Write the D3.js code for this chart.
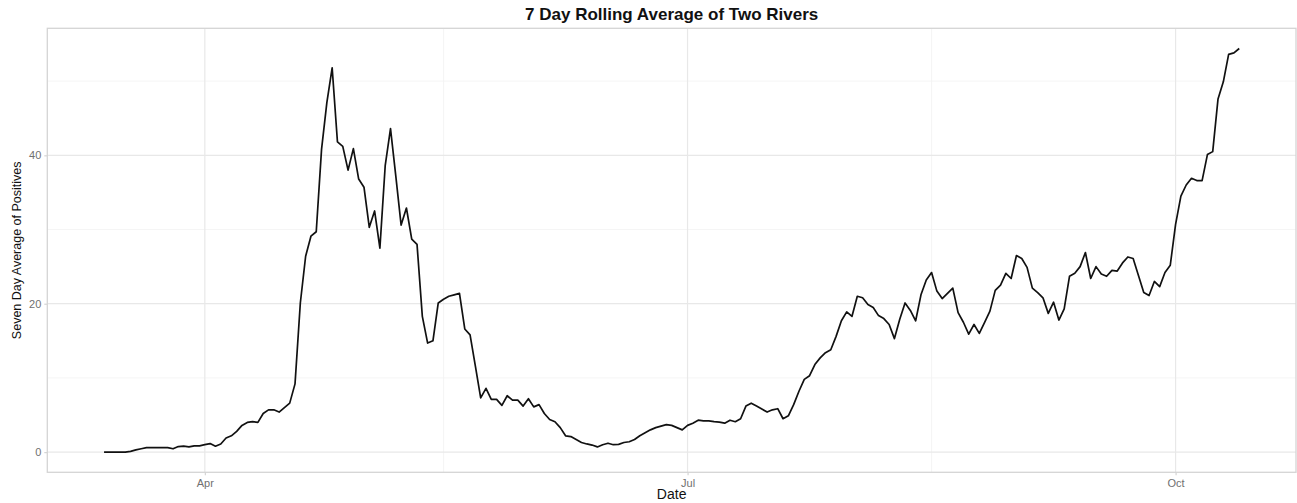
<!DOCTYPE html>
<html>
<head>
<meta charset="utf-8">
<script src="https://cdn.jsdelivr.net/npm/d3@7"></script>
<style>
  body { margin: 0; background: #fff; }
  text { font-family: "Liberation Sans", Arial, Helvetica, sans-serif; }
</style>
</head>
<body>
<div id="chart"></div>
<script>
// data: daily 7 day rolling average, starting 2020-03-13
const startDate = "2020-03-13";
const rollingAvg = [
  0, 0, 0, 0, 0, 0.1, 0.3, 0.45, 0.6, 0.6,
  0.6, 0.6, 0.6, 0.45, 0.75, 0.8, 0.7, 0.85, 0.85, 1.0,
  1.15, 0.8, 1.1, 1.9, 2.2, 2.8, 3.6, 4.0, 4.1, 4.0,
  5.2, 5.7, 5.7, 5.4, 6.0, 6.6, 9.2, 20.1, 26.4, 29.1,
  29.7, 40.8, 47.1, 51.8, 41.8, 41.2, 38.0, 40.9, 36.8, 35.7,
  30.3, 32.5, 27.5, 38.6, 43.6, 37.2, 30.6, 32.9, 28.7, 28.0,
  18.3, 14.7, 15.0, 20.1, 20.6, 21.0, 21.2, 21.4, 16.6, 15.8,
  11.6, 7.3, 8.6, 7.1, 7.1, 6.3, 7.6, 7.0, 7.0, 6.2,
  7.2, 6.1, 6.4, 5.2, 4.4, 4.1, 3.3, 2.2, 2.1, 1.7,
  1.3, 1.1, 0.95, 0.7, 1.0, 1.2, 1.0, 1.05, 1.3, 1.4,
  1.7, 2.2, 2.6, 3.0, 3.3, 3.5, 3.7, 3.6, 3.3, 3.0,
  3.6, 3.9, 4.3, 4.2, 4.2, 4.1, 4.05, 3.9, 4.3, 4.1,
  4.5, 6.2, 6.6, 6.2, 5.8, 5.4, 5.7, 5.85, 4.5, 4.9,
  6.4, 8.2, 9.8, 10.3, 11.8, 12.7, 13.4, 13.8, 15.6, 17.7,
  18.9, 18.3, 21.0, 20.8, 19.9, 19.5, 18.4, 18.0, 17.2, 15.3,
  17.9, 20.1, 19.1, 17.7, 21.2, 23.2, 24.2, 21.7, 20.7, 21.4,
  22.1, 18.8, 17.5, 15.9, 17.2, 16.0, 17.5, 19.0, 21.8, 22.5,
  24.1, 23.4, 26.5, 26.1, 24.9, 22.1, 21.5, 20.8, 18.7, 20.2,
  17.8, 19.3, 23.7, 24.1, 25.0, 26.9, 23.4, 25.0, 24.0, 23.7,
  24.5, 24.4, 25.5, 26.3, 26.1, 23.8, 21.5, 21.1, 23.0, 22.3,
  24.2, 25.2, 30.7, 34.5, 36.0, 36.9, 36.6, 36.6, 40.1, 40.5,
  47.6, 49.9, 53.6, 53.8, 54.4
];
const xTickDates = ["2020-04-01", "2020-07-01", "2020-10-01"];
const xTickLabels = ["Apr", "Jul", "Oct"];
const xMinorDates = ["2020-05-16", "2020-08-16"];
const yTicks = [0, 20, 40];
const yMinor = [10, 30, 50];

const W = 1297, H = 503;
const margin = { top: 28.3, right: 1, bottom: 30.7, left: 47.3 };

const parse = d3.utcParse("%Y-%m-%d");
const t0 = parse(startDate);
const data = rollingAvg.map((v, i) => ({ date: d3.utcDay.offset(t0, i), value: v }));

const svg = d3.select("#chart").append("svg")
  .attr("width", W)
  .attr("height", H);

// ggplot style 5% expansion on both axes
const xExt = d3.extent(data, d => d.date);
const xPad = (xExt[1] - xExt[0]) * 0.05;
const x = d3.scaleUtc()
  .domain([new Date(+xExt[0] - xPad), new Date(+xExt[1] + xPad)])
  .range([margin.left, W - margin.right]);

const yExt = d3.extent(data, d => d.value);
const yPad = (yExt[1] - yExt[0]) * 0.05;
const y = d3.scaleLinear()
  .domain([yExt[0] - yPad, yExt[1] + yPad])
  .range([H - margin.bottom, margin.top]);

// grid
const grid = svg.append("g");
grid.selectAll(".ymin").data(yMinor).join("line")
  .attr("x1", x.range()[0]).attr("x2", x.range()[1])
  .attr("y1", d => y(d)).attr("y2", d => y(d))
  .attr("stroke", "#f3f3f3").attr("stroke-width", 0.8);
grid.selectAll(".xmin").data(xMinorDates).join("line")
  .attr("x1", d => x(parse(d))).attr("x2", d => x(parse(d)))
  .attr("y1", y.range()[0]).attr("y2", y.range()[1])
  .attr("stroke", "#f3f3f3").attr("stroke-width", 0.8);
grid.selectAll(".ymaj").data(yTicks).join("line")
  .attr("x1", x.range()[0]).attr("x2", x.range()[1])
  .attr("y1", d => y(d)).attr("y2", d => y(d))
  .attr("stroke", "#e8e8e8").attr("stroke-width", 1.2);
grid.selectAll(".xmaj").data(xTickDates).join("line")
  .attr("x1", d => x(parse(d))).attr("x2", d => x(parse(d)))
  .attr("y1", y.range()[0]).attr("y2", y.range()[1])
  .attr("stroke", "#e8e8e8").attr("stroke-width", 1.2);

// panel border
svg.append("rect")
  .attr("x", x.range()[0]).attr("y", y.range()[1])
  .attr("width", x.range()[1] - x.range()[0])
  .attr("height", y.range()[0] - y.range()[1])
  .attr("fill", "none")
  .attr("stroke", "#d4d4d4")
  .attr("stroke-width", 1.3);

// line
const line = d3.line()
  .x(d => x(d.date))
  .y(d => y(d.value));

svg.append("path")
  .datum(data)
  .attr("fill", "none")
  .attr("stroke", "#111")
  .attr("stroke-width", 1.7)
  .attr("stroke-linejoin", "round")
  .attr("d", line);

// axes
const xAxis = svg.append("g")
  .attr("transform", `translate(0,${y.range()[0]})`)
  .call(d3.axisBottom(x)
    .tickValues(xTickDates.map(parse))
    .tickFormat((d, i) => xTickLabels[i])
    .tickSize(3).tickPadding(4));
const yAxis = svg.append("g")
  .attr("transform", `translate(${x.range()[0]},0)`)
  .call(d3.axisLeft(y)
    .tickValues(yTicks)
    .tickSize(3).tickPadding(3));

[xAxis, yAxis].forEach(g => {
  g.select(".domain").remove();
  g.selectAll(".tick line").attr("stroke", "#d4d4d4").attr("stroke-width", 1.2);
  g.selectAll(".tick text")
    .attr("fill", "#707070")
    .style("font-size", "11px")
    .style("font-family", "'Liberation Sans', Arial, sans-serif");
});

// titles
const cx = (x.range()[0] + x.range()[1]) / 2;
svg.append("text")
  .attr("x", cx).attr("y", 20)
  .attr("text-anchor", "middle")
  .style("font-size", "17px")
  .style("font-weight", "bold")
  .attr("fill", "#111")
  .text("7 Day Rolling Average of Two Rivers");

svg.append("text")
  .attr("x", cx).attr("y", 499)
  .attr("text-anchor", "middle")
  .style("font-size", "14px")
  .attr("fill", "#111")
  .text("Date");

svg.append("text")
  .attr("transform", `translate(21,${(y.range()[0] + y.range()[1]) / 2}) rotate(-90)`)
  .attr("text-anchor", "middle")
  .style("font-size", "12.5px")
  .attr("fill", "#111")
  .text("Seven Day Average of Positives");
</script>
</body>
</html>
